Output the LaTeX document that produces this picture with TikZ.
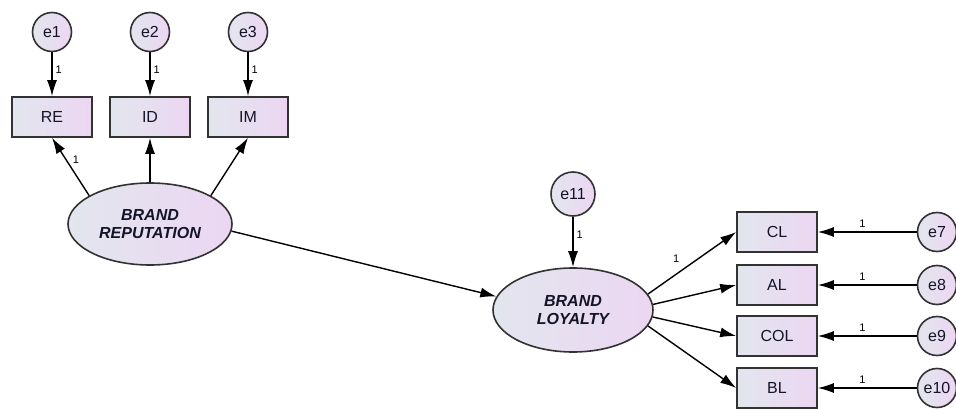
\documentclass[tikz,border=0pt]{standalone}
\usepackage{fontspec}
\setmainfont{Liberation Sans}
\usetikzlibrary{arrows.meta,shapes.geometric}

\begin{document}
\begin{tikzpicture}[x=1pt,y=-1pt,
    relleno/.style={draw=gborde,line width=1.6pt,shading=axis,left color=fizq,right color=fder},
    obs/.style={relleno,minimum width=80pt,minimum height=40pt,inner sep=0pt,text=texto,font=\fontsize{16}{18}\selectfont},
    err/.style={relleno,circle,minimum size=39pt,inner sep=0pt,text=texto,font=\fontsize{16}{18}\selectfont},
    lat/.style={relleno,ellipse,inner sep=0pt,align=center,text=texto,font=\fontsize{16}{18.5}\selectfont\bfseries\itshape},
    flecha/.style={-{Latex[length=16pt,width=10pt]},line width=1.4pt},
    uno/.style={font=\fontsize{11}{12}\selectfont,inner sep=1pt}]
        %colores
        \definecolor{fizq}{RGB}{226,230,238}
        \definecolor{fder}{RGB}{236,214,242}
        \definecolor{gborde}{RGB}{50,50,50}
        \definecolor{texto}{RGB}{20,20,40}

        \useasboundingbox (0,0) rectangle (956,409);

        % Indicadores de reputacion y errores
        \foreach \n/\e/\x in {RE/1/52,ID/2/150,IM/3/248}{
            \node[obs] (\n) at (\x,117) {\n};
            \node[err] (e\e) at (\x,32) {e\e};
            \draw[flecha] (e\e) -- (\n) node[uno,pos=0.4,right=2pt] {1};
        }

        % Variables latentes
        \node[lat,minimum width=164pt,minimum height=82pt] (BRep) at (150,224) {BRAND\\REPUTATION};
        \node[lat,minimum width=160pt,minimum height=84pt] (BLoy) at (573,310) {BRAND\\LOYALTY};
        \node[err,minimum size=44pt] (e11) at (573,194) {e11};

        % Indicadores de lealtad y errores
        \foreach \n/\e/\y in {CL/7/232,AL/8/285,COL/9/336,BL/10/388}{
            \node[obs] (\n) at (777,\y) {\n};
            \node[err] (e\e) at (937,\y) {e\e};
            \draw[flecha] (e\e) -- (\n) node[uno,pos=0.55,above=3pt] {1};
        }

        % Flechas
        \draw[flecha] (BRep.155) -- (RE.south) node[uno,pos=0.62,right=5pt] {1};
        \draw[flecha] (BRep.north) -- (ID.south);
        \draw[flecha] (BRep.25) -- (IM.south);
        \draw[flecha] (BRep.-5) -- (BLoy.170);
        \draw[flecha] (e11) -- (BLoy) node[uno,pos=0.35,right=2pt] {1};
        \draw[flecha] (BLoy.12) -- (CL.west) node[uno,pos=0.42,above left=4pt] {1};
        \foreach \n/\a in {AL/4,COL/-5,BL/-12}
            \draw[flecha] (BLoy.\a) -- (\n.west);
    \end{tikzpicture}
\end{document}
